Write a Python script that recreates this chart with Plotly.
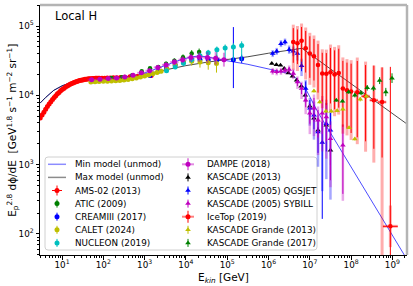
import plotly.graph_objects as go

# ---------------- data (E in GeV, F = E^2.8 dPhi/dE) ----------------
min_E = [2.93, 4, 6.3, 10, 15.8, 25, 40, 63, 100, 200, 400, 800, 1600, 3200, 6300, 12600, 20000, 31600,
         1e5, 3.16e5, 1.1e6, 3.16e6, 4.8e6, 8.3e6, 1.5e7, 1e8, 1e9, 2.2e9]
min_F = [7700, 9300, 11800, 13700, 15200, 16300, 17000, 17500, 17800, 18100, 18600, 20000, 23000, 27000,
         31500, 35500, 37000, 36000, 31500, 28000, 23700, 20600, 17400, 11800, 6000, 940, 96, 44]

max_E = [2.93, 4, 6.3, 10, 15.8, 25, 40, 63, 100, 200, 400, 800, 1600, 3200, 1e4, 3.16e4, 1e5, 3.16e5,
         1e6, 3.16e6, 6.5e6, 1e7, 3.16e7, 1e8, 3.16e8, 1e9, 2.2e9]
max_F = [7700, 9300, 11800, 13700, 15200, 16300, 17000, 17500, 17800, 18100, 18600, 19600, 21300, 23700,
         26800, 30000, 32500, 36000, 40500, 45000, 47700, 39400, 24000, 14700, 8900, 5470, 3900]

ams_E = [2.97, 3.29, 3.64, 4.02, 4.43, 4.88, 5.37, 5.90, 6.47, 7.09, 7.76, 8.48, 9.26, 10.1, 11.0, 12.0,
         13.0, 14.1, 15.3, 16.6, 18.0, 19.5, 21.1, 22.8, 24.7, 26.7, 28.8, 31.1, 33.5, 36.1, 38.9, 41.9,
         45.1, 48.5, 52.2, 56.1, 60.3, 64.8, 69.7, 74.9, 80.5, 93, 108, 125, 147, 175, 211, 259, 330, 441,
         660, 1450]
ams_F = [4700, 5200, 5700, 6300, 6900, 7500, 8100, 8700, 9300, 9900, 10500, 11000, 11600, 12100, 12600,
         13100, 13500, 13900, 14300, 14700, 15000, 15300, 15600, 15800, 16100, 16300, 16500, 16700, 16800,
         17000, 17100, 17200, 17300, 17400, 17400, 17500, 17500, 17600, 17600, 17600, 17700, 17700, 17700,
         17800, 17800, 17900, 18000, 18100, 18300, 18500, 18700, 19300]

atic_E = [158, 282, 501, 851, 1350, 2140, 3310, 5250, 8510, 13800, 20900]
atic_F = [17800, 18300, 19500, 22200, 24500, 25600, 28600, 31500, 35500, 40000, 42200]
atic_err = [0.015, 0.015, 0.015, 0.02, 0.02, 0.025, 0.03, 0.035, 0.04, 0.05, 0.05]

cream_E = [1350, 2140, 3390, 5500, 8710, 13800, 21900, 34700, 56200, 141000, 224000]
cream_F = [19400, 22200, 24500, 27600, 29900, 32000, 32600, 32600, 32700, 32700, 33600]
cream_lo = [0.02, 0.02, 0.02, 0.025, 0.03, 0.035, 0.04, 0.05, 0.06, 0.41, 0.06]
cream_hi = [0.02, 0.02, 0.02, 0.025, 0.03, 0.035, 0.04, 0.05, 0.06, 0.47, 0.06]

calet_E = [50, 63, 79, 100, 126, 158, 200, 251, 316, 398, 501, 631, 794, 1000, 1260, 1580, 2000, 2510,
           3470, 5500, 8710, 13800, 21900, 34700, 55000]
calet_F = [15600, 15700, 15800, 15900, 16000, 16100, 16200, 16400, 16600, 16900, 17300, 17800, 18400,
           19000, 19700, 20500, 21400, 22300, 24000, 27100, 30200, 30900, 30200, 29500, 28700]
calet_err = [0.01, 0.01, 0.01, 0.01, 0.01, 0.01, 0.01, 0.012, 0.012, 0.014, 0.014, 0.016, 0.018, 0.02,
             0.022, 0.025, 0.028, 0.03, 0.035, 0.04, 0.05, 0.06, 0.08, 0.1, 0.13]

nuc_E = [3390, 5500, 8710, 13800, 21900, 34700, 56200, 89100, 141000, 224000]
nuc_F = [22700, 25600, 29000, 33000, 37100, 41300, 45600, 48200, 49800, 52300]
nuc_lo = [0.02, 0.03, 0.04, 0.05, 0.07, 0.09, 0.12, 0.15, 0.2, 0.22]
nuc_hi = [0.02, 0.02, 0.025, 0.03, 0.035, 0.04, 0.045, 0.05, 0.055, 0.06]

dampe_E = [52, 83, 132, 209, 331, 525, 832, 1320, 2090, 3310, 5250, 8320, 13200, 20900, 33100, 52500, 83200]
dampe_F = [16850, 17020, 17420, 17770, 18370, 19440, 21100, 22600, 25300, 27500, 30200, 32700, 35000,
           35700, 35000, 34200, 32700]
dampe_err = [0.02, 0.02, 0.02, 0.02, 0.025, 0.025, 0.03, 0.03, 0.035, 0.04, 0.045, 0.05, 0.06, 0.07,
             0.08, 0.09, 0.1]
dampe_bin = 0.1  # half bin width in decades

kas13_E = [1.2e6, 1.55e6, 1.95e6, 2.4e6, 3.02e6, 3.8e6, 4.79e6, 6.17e6, 7.76e6, 1.0e7, 1.26e7, 1.58e7,
           2.51e7, 3.16e7]
kas13_F = [28700, 27700, 27100, 24300, 21000, 18800, 16500, 13500, 10000, 6940, 4660, 3130, 3690, 1610]
kas13_err = [0.01, 0.01, 0.01, 0.01, 0.012, 0.012, 0.015, 0.02, 0.025, 0.03, 0.04, 0.05, 0.06, 0.08]

kq_E = [1.26e6, 1.58e6, 2.0e6, 2.51e6, 3.16e6, 3.98e6, 5.01e6, 6.31e6, 7.94e6, 1.0e7, 1.26e7, 1.58e7,
        2.0e7, 2.51e7, 3.16e7]
kq_F = [40000, 43100, 55700, 58800, 45600, 43100, 40000, 26800, 12600, 6490, 5140, 2950, 2080, 3900, 3130]
kq_lo = [0.03, 0.03, 0.03, 0.03, 0.04, 0.04, 0.05, 0.08, 0.1, 0.12, 0.2, 0.3, 1.1, 0.4, 0.5]
kq_hi = [0.03, 0.03, 0.03, 0.03, 0.04, 0.04, 0.05, 0.08, 0.1, 0.12, 0.15, 0.2, 0.3, 0.2, 0.25]
kq_sys_lo = [0.05, 0.05, 0.05, 0.05, 0.06, 0.07, 0.1, 0.15, 0.2, 0.25, 0.35, 0.5, 0.7, 0.8, 1.0]
kq_sys_hi = [0.05, 0.05, 0.05, 0.05, 0.06, 0.07, 0.08, 0.1, 0.12, 0.15, 0.2, 0.25, 0.3, 0.3, 0.3]

ks_E = [1.26e6, 1.58e6, 2.0e6, 2.51e6, 3.16e6, 3.98e6, 5.01e6, 6.31e6, 7.94e6, 1.0e7, 1.26e7, 1.58e7,
        2.0e7, 2.51e7, 3.16e7, 6.31e7]
ks_F = [22200, 21800, 22200, 22900, 23500, 20600, 15600, 12500, 8470, 5500, 6490, 4360, 5500, 4860, 2370, 1900]
ks_lo = [0.03, 0.03, 0.03, 0.03, 0.04, 0.05, 0.06, 0.08, 0.1, 0.15, 0.2, 0.25, 0.3, 0.35, 0.6, 0.7]
ks_hi = [0.03, 0.03, 0.03, 0.03, 0.04, 0.05, 0.06, 0.08, 0.1, 0.12, 0.15, 0.15, 0.2, 0.2, 0.2, 0.3]
ks_sys_lo = [0.05, 0.05, 0.05, 0.05, 0.06, 0.08, 0.1, 0.15, 0.2, 0.3, 0.4, 0.5, 0.55, 0.6, 0.7, 0.8]
ks_sys_hi = [0.05, 0.05, 0.05, 0.05, 0.06, 0.07, 0.08, 0.1, 0.12, 0.15, 0.2, 0.2, 0.25, 0.25, 0.25, 0.3]

ice_E = [3.98e6, 5.01e6, 6.31e6, 7.94e6, 1.0e7, 1.26e7, 1.58e7, 2.0e7, 2.51e7, 3.16e7, 3.98e7, 5.01e7,
         6.31e7, 7.94e7, 1.0e8, 1.41e8, 2.24e8, 3.55e8, 5.62e8, 8.91e8]
ice_F = [58800, 56300, 61100, 47700, 40000, 36600, 27500, 20600, 20400, 21500, 19900, 21000, 12500,
         11800, 11400, 11100, 9700, 8500, 8000, 129]
ice_bin = [0.05, 0.05, 0.05, 0.05, 0.05, 0.05, 0.05, 0.05, 0.05, 0.05, 0.05, 0.05, 0.05, 0.05, 0.05,
           0.075, 0.1, 0.1, 0.1, 0.18]
ice_lo = [0.3, 0.3, 0.3, 0.35, 0.35, 0.35, 0.4, 0.4, 0.45, 0.45, 0.5, 0.5, 0.55, 0.55, 0.6, 0.65, 0.65,
          0.7, 0.8, 3.0]
ice_hi = [0.2, 0.2, 0.2, 0.25, 0.25, 0.25, 0.3, 0.3, 0.3, 0.35, 0.35, 0.35, 0.4, 0.4, 0.4, 0.45, 0.45,
          0.5, 0.5, 2.3]
ice_sys_lo = [0.4, 0.4, 0.4, 0.45, 0.45, 0.45, 0.5, 0.5, 0.55, 0.55, 0.6, 0.6, 0.65, 0.65, 0.7, 0.75,
              0.8, 0.9, 3.0, 0.3]
ice_sys_hi = [0.25, 0.25, 0.25, 0.3, 0.3, 0.3, 0.35, 0.35, 0.35, 0.4, 0.4, 0.4, 0.45, 0.45, 0.45, 0.5,
              0.5, 0.5, 0.5, 0.3]

kg13_E = [1.26e7, 1.74e7, 2.45e7, 3.31e7, 4.57e7, 6.31e7, 8.91e7, 1.23e8, 1.66e8, 2.34e8]
kg13_F = [11530, 8000, 5880, 5880, 5980, 6280, 3420, 2340, 8760, 9670]
kg13_err = [0.02, 0.02, 0.02, 0.02, 0.02, 0.02, 0.02, 0.02, 0.03, 0.03]

kg17_E = [4.37e7, 6.17e7, 8.71e7, 1.23e8, 1.74e8, 2.45e8, 3.47e8, 4.9e8, 6.92e8, 9.77e8]
kg17_F = [8470, 8250, 11160, 10000, 10800, 12830, 12620, 16300, 11160, 17700]
kg17_err = [0.02, 0.02, 0.025, 0.03, 0.03, 0.04, 0.04, 0.05, 0.06, 0.07]

x_ticks = [1e1, 1e2, 1e3, 1e4, 1e5, 1e6, 1e7, 1e8, 1e9]
x_ticktext = ["10<sup>%d</sup>" % k for k in range(1, 10)]
y_ticks = [1e2, 1e3, 1e4, 1e5]
y_ticktext = ["10<sup>%d</sup>" % k for k in range(2, 6)]

# ---------------- styles ----------------
R, G, B, Y, C, M, K = '#ff0000', '#008000', '#0000ff', '#bfbf00', '#00bfbf', '#bf00bf', '#000000'
FONT = "DejaVu Sans"


def dec_err(F, lo, hi):
    plus = [f * (10 ** h - 1) for f, h in zip(F, hi)]
    minus = [f * (1 - 10 ** (-l)) for f, l in zip(F, lo)]
    return plus, minus


def ex_err(E, half):
    if not isinstance(half, list):
        half = [half] * len(E)
    plus = [e * (10 ** h - 1) for e, h in zip(E, half)]
    minus = [e * (1 - 10 ** (-h)) for e, h in zip(E, half)]
    return plus, minus


fig = go.Figure()

# models
fig.add_trace(go.Scatter(x=min_E, y=min_F, mode='lines', name='Min model (unmod)', showlegend=False,
                         line=dict(color='rgba(0,0,255,0.7)', width=1)))
fig.add_trace(go.Scatter(x=max_E, y=max_F, mode='lines', name='Max model (unmod)', showlegend=False,
                         line=dict(color='rgba(0,0,0,0.7)', width=1)))


def sys_trace(E, F, lo, hi, color, thick=3, xerr=None):
    p, m = dec_err(F, lo, hi)
    d = dict(x=E, y=F, mode='markers', showlegend=False, hoverinfo='skip',
             marker=dict(size=1, color='rgba(0,0,0,0)'),
             error_y=dict(type='data', symmetric=False, array=p, arrayminus=m,
                          color=color, thickness=thick, width=0))
    if xerr is not None:
        xp, xm = xerr
        d['error_x'] = dict(type='data', symmetric=False, array=xp, arrayminus=xm,
                            color=color, thickness=thick, width=0)
    fig.add_trace(go.Scatter(**d))


def data_trace(E, F, lo, hi, color, symbol, name, size=5, xerr=None, ecolor=None, ethick=1):
    p, m = dec_err(F, lo, hi)
    d = dict(x=E, y=F, mode='markers', name=name, showlegend=False,
             marker=dict(size=size, color=color, symbol=symbol, line=dict(width=0)),
             error_y=dict(type='data', symmetric=False, array=p, arrayminus=m,
                          color=ecolor or color, thickness=ethick, width=0))
    if xerr is not None:
        xp, xm = xerr
        d['error_x'] = dict(type='data', symmetric=False, array=xp, arrayminus=xm,
                            color=ecolor or color, thickness=ethick, width=0)
    fig.add_trace(go.Scatter(**d))


zero = lambda arr: [0.004] * len(arr)

data_trace(ams_E, ams_F, zero(ams_F), zero(ams_F), R, 'circle', 'AMS-02 (2013)')
data_trace(atic_E, atic_F, atic_err, atic_err, G, 'circle', 'ATIC (2009)', size=4.5)
data_trace(cream_E, cream_F, cream_lo, cream_hi, B, 'circle', 'CREAMIII (2017)')
data_trace(calet_E, calet_F, calet_err, calet_err, Y, 'circle', 'CALET (2024)')
data_trace(nuc_E, nuc_F, nuc_lo, nuc_hi, C, 'circle', 'NUCLEON (2019)')
data_trace(dampe_E, dampe_F, dampe_err, dampe_err, M, 'circle', 'DAMPE (2018)',
           xerr=ex_err(dampe_E, dampe_bin), ecolor='rgba(191,0,191,0.45)', ethick=2)
data_trace(kas13_E, kas13_F, kas13_err, kas13_err, K, 'triangle-up', 'KASCADE (2013)')
sys_trace(kq_E, kq_F, kq_sys_lo, kq_sys_hi, 'rgba(0,0,255,0.35)', thick=2.5)
data_trace(kq_E, kq_F, kq_lo, kq_hi, B, 'triangle-up', 'KASCADE (2005) QGSJET')
sys_trace(ks_E, ks_F, ks_sys_lo, ks_sys_hi, 'rgba(191,0,191,0.35)', thick=2.5)
data_trace(ks_E, ks_F, ks_lo, ks_hi, M, 'triangle-up', 'KASCADE (2005) SYBILL')
sys_trace(ice_E, ice_F, ice_sys_lo, ice_sys_hi, 'rgba(255,0,0,0.32)', thick=3,
          xerr=ex_err(ice_E, ice_bin))
data_trace(ice_E, ice_F, ice_lo, ice_hi, R, 'circle', 'IceTop (2019)', size=4.5,
           xerr=ex_err(ice_E, ice_bin))
data_trace(kg13_E, kg13_F, kg13_err, kg13_err, Y, 'triangle-up', 'KASCADE Grande (2013)')
data_trace(kg17_E, kg17_F, kg17_err, kg17_err, G, 'triangle-up', 'KASCADE Grande (2017)')

# ---------------- hand-made legend (pixel overlay axes) ----------------
rows = [164.3, 177.4, 190.5, 203.6, 216.7, 229.8, 242.9]
legend_items = [
    # label, kind, color, symbol, column, row, (ex, ey), ecolor, ethick
    ('Min model (unmod)', 'line', 'rgba(0,0,255,0.45)', None, 0, 0, None, None, 1),
    ('Max model (unmod)', 'line', 'rgba(0,0,0,0.45)', None, 0, 1, None, None, 1),
    ('AMS-02 (2013)', 'marker', R, 'circle', 0, 2, (5, 5), R, 1),
    ('ATIC (2009)', 'marker', G, 'circle', 0, 3, (0, 4), G, 1),
    ('CREAMIII (2017)', 'marker', B, 'circle', 0, 4, (0, 4), B, 1),
    ('CALET (2024)', 'marker', Y, 'circle', 0, 5, (0, 4), Y, 1),
    ('NUCLEON (2019)', 'marker', C, 'circle', 0, 6, (0, 4), C, 1),
    ('DAMPE (2018)', 'marker', M, 'circle', 1, 0, (6, 6), 'rgba(191,0,191,0.45)', 2),
    ('KASCADE (2013)', 'marker', K, 'triangle-up', 1, 1, (0, 4), K, 1),
    ('KASCADE (2005) QGSJET', 'marker', B, 'triangle-up', 1, 2, (0, 4), B, 1),
    ('KASCADE (2005) SYBILL', 'marker', M, 'triangle-up', 1, 3, (0, 4), M, 1),
    ('IceTop (2019)', 'marker', R, 'circle', 1, 4, (6, 6), 'rgba(255,0,0,0.5)', 2),
    ('KASCADE Grande (2013)', 'marker', Y, 'triangle-up', 1, 5, (0, 4), Y, 1),
    ('KASCADE Grande (2017)', 'marker', G, 'triangle-up', 1, 6, (0, 4), G, 1),
]
col_marker_x = [57, 188]
col_text_x = [73, 205]

annotations = []
for label, kind, color, symbol, col, row, err, ecol, eth in legend_items:
    yy = rows[row]
    xx = col_marker_x[col]
    if kind == 'line':
        fig.add_trace(go.Scatter(x=[xx - 9, xx + 9], y=[yy, yy], mode='lines', xaxis='x2', yaxis='y2',
                                 showlegend=False, hoverinfo='skip',
                                 line=dict(color=color, width=1.5)))
    else:
        d = dict(x=[xx], y=[yy], mode='markers', xaxis='x2', yaxis='y2', showlegend=False,
                 hoverinfo='skip', marker=dict(size=5, color=color, symbol=symbol, line=dict(width=0)))
        ex, ey = err
        if ey:
            d['error_y'] = dict(type='constant', value=ey, color=ecol, thickness=eth, width=0)
        if ex:
            d['error_x'] = dict(type='constant', value=ex, color=ecol, thickness=eth, width=0)
        fig.add_trace(go.Scatter(**d))
    annotations.append(dict(x=col_text_x[col], y=yy, xref='x2', yref='y2', text=label, showarrow=False,
                            xanchor='left', yanchor='middle',
                            font=dict(family=FONT, size=8.8, color='black')))

annotations.append(dict(x=0.035, y=0.958, xref='paper', yref='paper', text='Local H', showarrow=False,
                        xanchor='left', yanchor='middle', font=dict(family=FONT, size=11.5, color='black')))
# axis titles
annotations.append(dict(x=0.5, y=-0.09, xref='paper', yref='paper', text='E<sub><i>kin</i></sub> [GeV]',
                        showarrow=False, xanchor='center', yanchor='middle',
                        font=dict(family=FONT, size=10.5, color='black')))
annotations.append(dict(x=-0.074, y=0.5, xref='paper', yref='paper', textangle=-90,
                        text='E<sub>p</sub><sup>2.8</sup> dϕ/dE  [GeV<sup>1.8</sup> s<sup>−1</sup> '
                             'm<sup>−2</sup> sr<sup>−1</sup>]',
                        showarrow=False, xanchor='center', yanchor='middle',
                        font=dict(family=FONT, size=10.5, color='black')))

# legend box with rounded corners (pixel coordinates on overlay axes)
x0, x1, y0, y1, r = 45, 317, 157, 250, 3
box_path = (f"M {x0+r},{y0} L {x1-r},{y0} Q {x1},{y0} {x1},{y0+r} L {x1},{y1-r} Q {x1},{y1} {x1-r},{y1} "
            f"L {x0+r},{y1} Q {x0},{y1} {x0},{y1-r} L {x0},{y0+r} Q {x0},{y0} {x0+r},{y0} Z")

shapes = [
    dict(type='path', path=box_path, xref='x2', yref='y2', line=dict(color='#d0d0d0', width=1),
         fillcolor='rgba(255,255,255,0.8)', layer='below'),
    dict(type='line', xref='paper', yref='paper', x0=0, x1=1, y0=1, y1=1,
         line=dict(color='#b4b4b4', width=2.5), layer='above'),
    dict(type='line', xref='paper', yref='paper', x0=1, x1=1, y0=0, y1=1,
         line=dict(color='#b4b4b4', width=2.5), layer='above'),
]

minor_x = [m * 10 ** k for k in range(0, 10) for m in range(2, 10)]
minor_y = [m * 10 ** k for k in range(1, 6) for m in range(2, 10)]

axis_common = dict(type='log', showgrid=False, zeroline=False, showline=True, linecolor='black',
                   linewidth=1, ticks='outside', ticklen=3.5, tickwidth=0.8, tickcolor='black',
                   automargin=False,
                   tickfont=dict(family=FONT, size=8.8, color='black'))

fig.update_layout(
    width=413, height=286,
    margin=dict(l=40, r=6, t=5, b=31, autoexpand=False),
    paper_bgcolor='white', plot_bgcolor='white',
    showlegend=False,
    font=dict(family=FONT, color='black'),
    xaxis=dict(**axis_common, range=[0.467, 9.353], tickmode='array', tickvals=x_ticks,
               ticktext=x_ticktext, ticklabelstandoff=-2,
               minor=dict(tickmode='array', tickvals=minor_x, ticks='outside', ticklen=2,
                          tickwidth=0.6, tickcolor='black')),
    yaxis=dict(**axis_common, range=[1.697, 5.303], tickmode='array', tickvals=y_ticks,
               ticktext=y_ticktext,
               minor=dict(tickmode='array', tickvals=minor_y, ticks='outside', ticklen=2,
                          tickwidth=0.6, tickcolor='black')),
    xaxis2=dict(range=[40, 407], overlaying='x', anchor='y2', visible=False, fixedrange=True),
    yaxis2=dict(range=[255, 5], overlaying='y', anchor='x2', visible=False, fixedrange=True),
    annotations=annotations,
    shapes=shapes,
)

fig.write_html("out.html", config={'displayModeBar': False},
               post_script="document.body.style.margin='0px';")
